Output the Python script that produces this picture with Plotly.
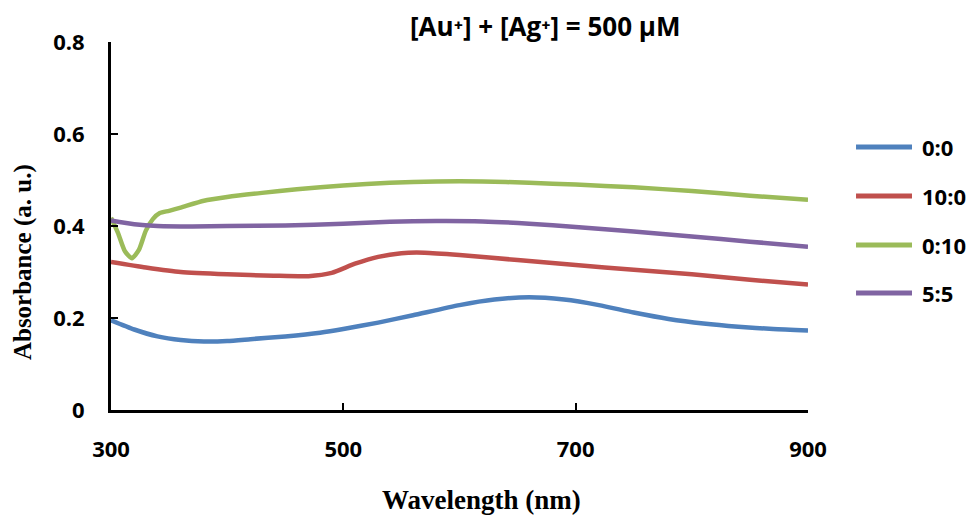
import plotly.graph_objects as go

wl_blue = [300, 320, 340, 360, 380, 400, 420, 450, 480, 500, 530, 560, 600, 630, 660, 690, 720, 750, 780, 810, 840, 870, 900]
abs_blue = [0.195, 0.175, 0.160, 0.152, 0.149, 0.150, 0.154, 0.160, 0.168, 0.176, 0.190, 0.206, 0.228, 0.240, 0.245, 0.240, 0.228, 0.212, 0.198, 0.188, 0.181, 0.176, 0.173]

wl_red = [300, 330, 360, 400, 440, 470, 490, 510, 530, 550, 570, 600, 650, 700, 750, 800, 850, 900]
abs_red = [0.322, 0.310, 0.300, 0.295, 0.292, 0.291, 0.298, 0.318, 0.333, 0.341, 0.342, 0.337, 0.326, 0.315, 0.305, 0.295, 0.283, 0.273]

wl_green = [300, 306, 312, 318, 324, 330, 336, 342, 350, 360, 380, 400, 430, 460, 500, 540, 580, 620, 660, 700, 750, 800, 850, 900]
abs_green = [0.418, 0.385, 0.345, 0.330, 0.348, 0.390, 0.415, 0.428, 0.433, 0.440, 0.455, 0.463, 0.472, 0.480, 0.488, 0.494, 0.497, 0.497, 0.494, 0.490, 0.484, 0.476, 0.466, 0.457]

wl_purple = [300, 320, 340, 370, 400, 450, 500, 540, 580, 620, 660, 700, 750, 800, 850, 900]
abs_purple = [0.412, 0.404, 0.400, 0.399, 0.400, 0.401, 0.405, 0.409, 0.411, 0.410, 0.405, 0.398, 0.388, 0.377, 0.366, 0.355]

series_names = ["0:0", "10:0", "0:10", "5:5"]
series_x = [wl_blue, wl_red, wl_green, wl_purple]
series_y = [abs_blue, abs_red, abs_green, abs_purple]
colors = ["#4F81BD", "#C0504D", "#9BBB59", "#8064A2"]

x_ticks = [300, 500, 700, 900]
y_ticks = [0, 0.2, 0.4, 0.6, 0.8]
y_tick_text = ["0", "0.2", "0.4", "0.6", "0.8"]

fig = go.Figure()
for name, xs, ys, c in zip(series_names, series_x, series_y, colors):
    fig.add_trace(go.Scatter(x=xs, y=ys, mode="lines", name=name, showlegend=False,
                             line=dict(color=c, width=4.5, shape="spline", smoothing=0.6)))

# custom legend (paper coordinates) to match the reference's long swatches and spacing
leg_y = [0.7147, 0.5815, 0.4484, 0.3179]
shapes = []
annotations = []
for name, c, ly in zip(series_names, colors, leg_y):
    shapes.append(dict(type="line", xref="paper", yref="paper", x0=1.0689, x1=1.1492,
                       y0=ly, y1=ly, line=dict(color=c, width=5)))
    annotations.append(dict(text=name, xref="paper", yref="paper", x=1.1610, y=ly,
                            xanchor="left", yanchor="middle", showarrow=False,
                            font=dict(family="Open Sans", size=22, color="black", weight="bold")))

annotations += [
    dict(text="[Au⁺] + [Ag⁺] = 500 µM", xref="paper", yref="paper",
         x=0.623, y=1.0, xanchor="center", yanchor="middle", yshift=16, showarrow=False,
         font=dict(family="Open Sans", size=26, color="black", weight="bold")),
    dict(text="Wavelength (nm)", xref="paper", yref="paper", x=0.531, y=0, yshift=-90,
         xanchor="center", yanchor="middle", showarrow=False,
         font=dict(family="Liberation Serif", size=27, color="black", weight="bold")),
    dict(text="Absorbance (a. u.)", xref="paper", yref="paper", x=0, xshift=-88, y=0.402,
         xanchor="center", yanchor="middle", textangle=-90, showarrow=False,
         font=dict(family="Liberation Serif", size=25, color="black", weight="bold")),
]

tickfont = dict(family="Open Sans", size=22, color="black", weight="bold")
fig.update_layout(
    width=976, height=515,
    margin=dict(l=111, r=168, t=42, b=105),
    paper_bgcolor="white", plot_bgcolor="white",
    showlegend=False,
    xaxis=dict(range=[300, 900], tickvals=x_ticks, ticks="inside", ticklen=7, tickwidth=2,
               tickcolor="black", showline=True, linecolor="black", linewidth=3,
               showgrid=False, zeroline=False, tickfont=tickfont, ticklabelstandoff=18),
    yaxis=dict(range=[0, 0.8], tickvals=y_ticks, ticktext=y_tick_text, ticks="inside", ticklen=7,
               tickwidth=2, tickcolor="black", showline=True, linecolor="black", linewidth=3,
               showgrid=False, zeroline=False, tickfont=tickfont, ticklabelstandoff=19),
    shapes=shapes,
    annotations=annotations,
)
fig.write_html("out.html")
